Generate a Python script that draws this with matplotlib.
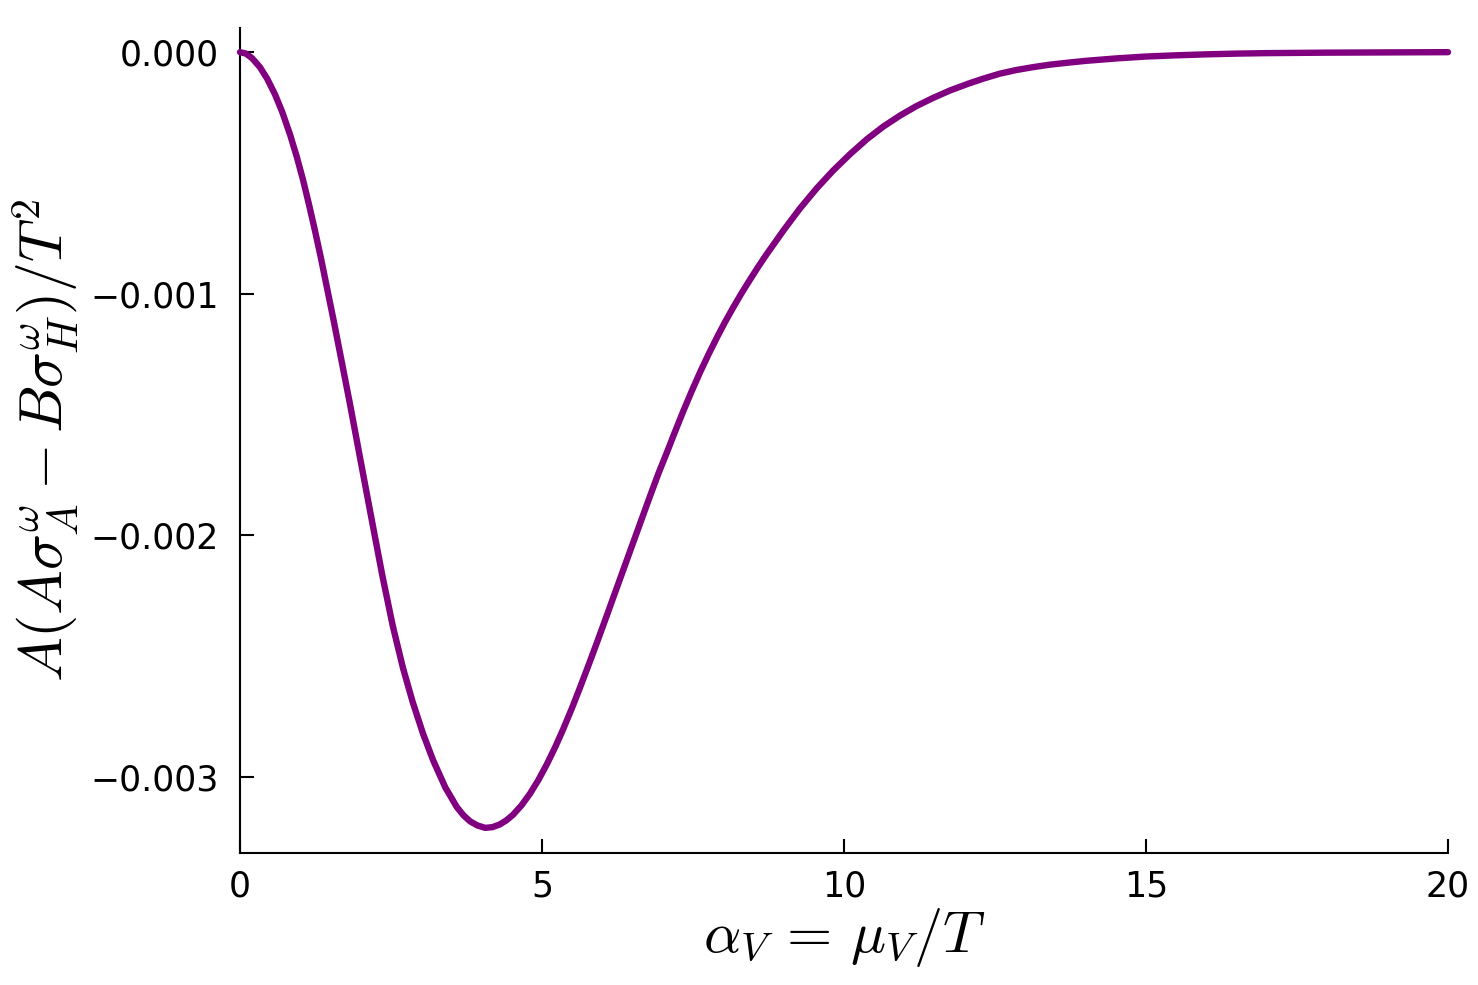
import matplotlib
matplotlib.use("Agg")
import matplotlib.pyplot as plt
from matplotlib.ticker import FixedLocator, FuncFormatter

# data (y in units of 1e-3)
alpha_v = [0.0, 0.1, 0.2, 0.33, 0.45, 0.58, 0.7, 0.83, 0.94, 1.04, 1.14, 1.24,
           1.34, 1.44, 1.55, 1.66, 1.82, 2.00, 2.20, 2.36, 2.53, 2.70, 2.86,
           3.03, 3.20, 3.40, 3.59, 3.70, 3.81, 3.93, 4.06, 4.18, 4.30, 4.41,
           4.52, 4.66, 4.80, 4.94,
           5.08, 5.22, 5.35, 5.50, 5.63, 5.77, 5.91, 6.05, 6.18, 6.29, 6.41,
           6.60, 6.79, 6.93, 7.07, 7.20, 7.34, 7.48, 7.62, 7.76, 7.90, 8.03,
           8.16, 8.30, 8.44, 8.58, 8.72, 9.00, 9.27, 9.55, 9.82, 10.10, 10.38,
           10.65, 10.93, 11.20, 11.47, 11.75, 12.04, 12.30, 12.58, 12.85, 13.13,
           13.40, 13.69, 14.0, 14.5, 15.0, 15.5, 16.0, 16.5, 17.0, 18.0, 19.0,
           20.0]
value_e3 = [0.0, -0.006, -0.025, -0.062, -0.110, -0.175, -0.248, -0.342, -0.433,
            -0.525, -0.628, -0.737, -0.852, -0.975, -1.110, -1.250, -1.455,
            -1.695, -1.960, -2.170, -2.375, -2.550, -2.690, -2.820, -2.932,
            -3.043, -3.124, -3.158, -3.183, -3.200, -3.210, -3.207, -3.196,
            -3.179, -3.156, -3.117, -3.069,
            -3.012, -2.947, -2.875, -2.802, -2.712, -2.629, -2.537, -2.443,
            -2.347, -2.257, -2.181, -2.098, -1.967, -1.836, -1.742, -1.655,
            -1.572, -1.485, -1.402, -1.323, -1.249, -1.179, -1.117, -1.059,
            -0.999, -0.943, -0.888, -0.836, -0.737, -0.647, -0.563, -0.490,
            -0.422, -0.360, -0.308, -0.262, -0.223, -0.190, -0.159, -0.132,
            -0.110, -0.089, -0.074, -0.062, -0.052, -0.044, -0.036, -0.026,
            -0.018, -0.013, -0.009, -0.006, -0.004, -0.002, -0.001, 0.0]
values = [v * 1e-3 for v in value_e3]

x_ticks = [0, 5, 10, 15, 20]
y_ticks = [0.0, -0.001, -0.002, -0.003]

plt.rcParams['mathtext.fontset'] = 'cm'
plt.rcParams['font.family'] = 'DejaVu Sans'

fig = plt.figure(figsize=(14.78, 9.85), dpi=100)
ax = fig.add_axes([240/1478, 1-853/985, (1448-240)/1478, (853-28)/985])

ax.plot(alpha_v, values, color='#800080', lw=4.6, solid_capstyle='round',
        solid_joinstyle='round', clip_on=False, zorder=3)

ax.set_xlim(0, 20)
ax.set_ylim(-0.003314, 0.0001)

ax.xaxis.set_major_locator(FixedLocator(x_ticks))
ax.yaxis.set_major_locator(FixedLocator(y_ticks))

def fmt_y(v, pos):
    s = f"{v:.3f}"
    if s == "-0.000":
        s = "0.000"
    return s.replace('-', '\u2212')

ax.yaxis.set_major_formatter(FuncFormatter(fmt_y))
ax.xaxis.set_major_formatter(FuncFormatter(lambda v, p: f"{int(round(v))}"))

for side in ['top', 'right']:
    ax.spines[side].set_visible(False)
for side in ['left', 'bottom']:
    ax.spines[side].set_linewidth(1.5)

ax.tick_params(axis='both', direction='in', length=10, width=1.5,
               labelsize=25)
ax.tick_params(axis='y', pad=15)
ax.tick_params(axis='x', pad=12)

ax.set_xlabel(r'$\alpha_V \,=\, \mu_V/T$', fontsize=42, labelpad=2)
ax.set_ylabel(r'$A(A\sigma^\omega_A - B\sigma^\omega_H)/T^2$', fontsize=43,
              labelpad=8)

fig.savefig('out.png', dpi=100)
